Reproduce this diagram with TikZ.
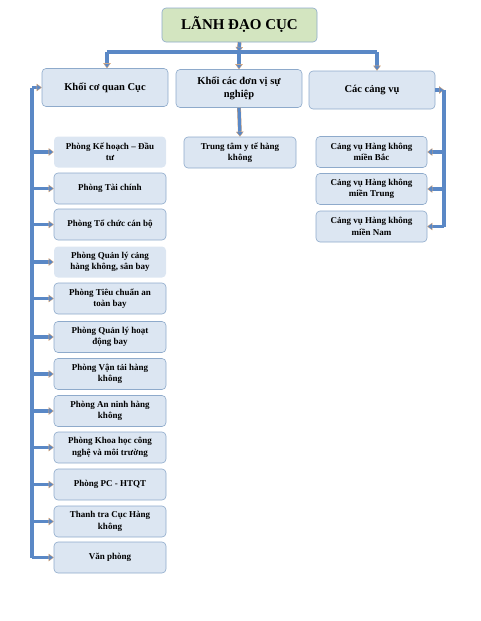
\documentclass[tikz,border=0pt]{standalone}
\usepackage{fontspec}
\setmainfont{Liberation Serif}
\usetikzlibrary{arrows.meta}

\definecolor{boxfill}{HTML}{DCE6F2}
\definecolor{boxline}{HTML}{8EAACB}
\definecolor{leadfill}{HTML}{D3E5C0}
\definecolor{linkblue}{HTML}{5A88C6}
\definecolor{linkedge}{HTML}{E3A469}

\begin{document}
\begin{tikzpicture}[x=1pt,y=-1pt,
  unit/.style={draw=boxline,fill=boxfill,rounded corners=4pt,line width=0.6pt,
    minimum width=112pt,minimum height=31pt,text width=96pt,align=flush center,
    inner sep=1pt,font=\fontsize{9}{11.5}\selectfont\bfseries},
  plain/.style={unit,draw=none},
  block/.style={unit,minimum width=126pt,minimum height=38pt,text width=100pt,
    font=\fontsize{10.5}{13.5}\selectfont\bfseries},
  conn/.style={draw=linkedge,double=linkblue,line width=0.3pt,double distance=3.2pt,
    -{Triangle[width=7.5pt,length=5pt,line width=0.3pt,fill=linkblue]}},
  bar/.style={conn,-}]

\useasboundingbox (0,0) rectangle (480,621);

\node[unit,fill=leadfill,minimum width=155pt,minimum height=34pt,text width=150pt,
  font=\fontsize{15}{18}\selectfont\bfseries] (0) at (239.5,25) {LÃNH ĐẠO CỤC};

\node[block] (1) at (105,87.5) {Khối cơ quan Cục};
\node[block] (2) at (239,88.5) {Khối các đơn vị sự nghiệp};
\node[block] (3) at (372,90) {Các cảng vụ};

% khoi co quan
\node[plain] (k1) at (110,152) {Phòng Kế hoạch – Đầu tư};
\node[unit] (k2) at (110,188.5) {Phòng Tài chính};
\node[unit] (k3) at (110,224.5) {Phòng Tổ chức cán bộ};
\node[plain] (k4) at (110,262) {Phòng Quản lý cảng hàng không, sân bay};
\node[unit] (k5) at (110,298.5) {Phòng Tiêu chuẩn an toàn bay};
\node[unit] (k6) at (110,337) {Phòng Quản lý hoạt động bay};
\node[unit] (k7) at (110,374) {Phòng Vận tải hàng không};
\node[unit] (k8) at (110,411) {Phòng An ninh hàng không};
\node[unit] (k9) at (110,447.5) {Phòng Khoa học công nghệ và môi trường};
\node[unit] (k10) at (110,484.5) {Phòng PC - HTQT};
\node[unit] (k11) at (110,521.5) {Thanh tra Cục Hàng không};
\node[unit] (k12) at (110,557.5) {Văn phòng};

% don vi su nghiep
\node[unit] (d1) at (240,152.5) {Trung tâm y tế hàng không};

% cang vu
\node[unit,minimum width=111pt] (c1) at (371.5,152) {Cảng vụ Hàng không miền Bắc};
\node[unit,minimum width=111pt] (c2) at (371.5,189) {Cảng vụ Hàng không miền Trung};
\node[unit,minimum width=111pt] (c3) at (371.5,226.5) {Cảng vụ Hàng không miền Nam};

\coordinate (bm) at (239,52);
\coordinate (bl) at (107,52);
\coordinate (br) at (377,52);
\coordinate (lt) at (32,87.5);
\coordinate (lb) at (32,557.5);
\coordinate (rt) at (444,90);
\coordinate (rb) at (444,226.5);

\draw[conn] (0.south) -- (bm);
\draw[bar] (bl) -- (br);
\draw[conn] (bl) -- (bl |- 1.north);
\draw[conn] (bm) -- (bm |- 2.north);
\draw[conn] (br) -- (br |- 3.north);

\draw[bar] (lb) -- (lt);
\draw[conn] (lt) -- (1.west);
\foreach \i in {1,...,12}
  \draw[conn] (lt |- k\i.west) -- (k\i.west);

\draw[conn] (2.south) -- (d1.north);

\draw[conn] (3.east) -- (rt);
\draw[bar] (rt) -- (rb);
\foreach \i in {1,2,3}
  \draw[conn] (rt |- c\i.east) -- (c\i.east);

\end{tikzpicture}
\end{document}
